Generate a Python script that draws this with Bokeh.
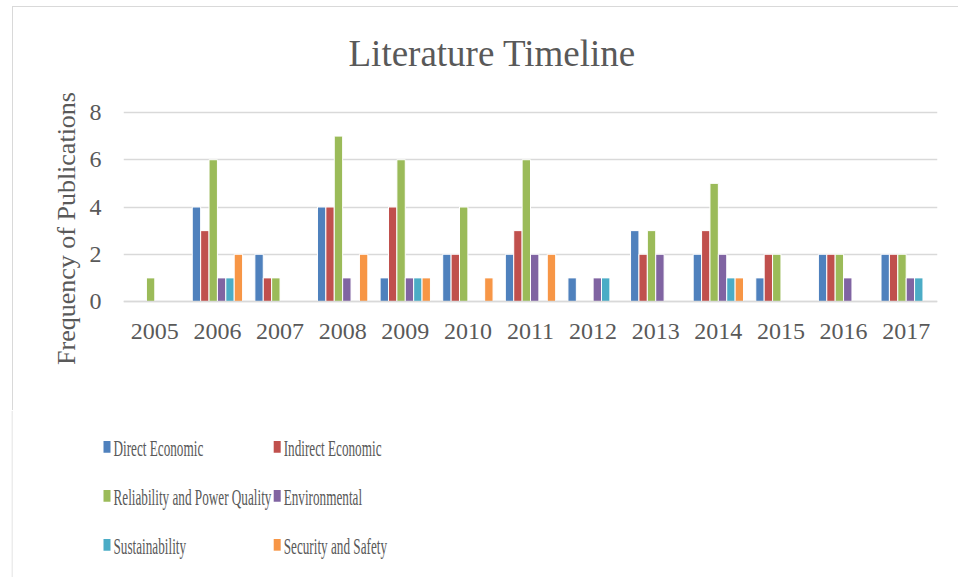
from bokeh.plotting import figure
from bokeh.models import (FactorRange, Range1d, FixedTicker, ColumnDataSource,
                          Title, Column)
from bokeh.transform import dodge
from bokeh.embed import file_html
from bokeh.resources import INLINE
from bokeh.core.properties import value

# ---- data -------------------------------------------------------------
years = ["2005", "2006", "2007", "2008", "2009", "2010", "2011",
         "2012", "2013", "2014", "2015", "2016", "2017"]

direct_economic   = [0, 4, 2, 4, 1, 2, 2, 1, 3, 2, 1, 2, 2]
indirect_economic = [0, 3, 1, 4, 4, 2, 3, 0, 2, 3, 2, 2, 2]
reliability_pq    = [1, 6, 1, 7, 6, 4, 6, 0, 3, 5, 2, 2, 2]
environmental     = [0, 1, 0, 1, 1, 0, 2, 1, 2, 2, 0, 1, 1]
sustainability    = [0, 1, 0, 0, 1, 0, 0, 1, 0, 1, 0, 0, 1]
security_safety   = [0, 2, 0, 2, 1, 1, 2, 0, 0, 1, 0, 0, 0]

series_names = ["Direct Economic", "Indirect Economic",
                "Reliability and Power Quality", "Environmental",
                "Sustainability", "Security and Safety"]
series_keys = ["direct", "indirect", "reliability", "environmental",
               "sustainability", "security"]
series_colors = ["#4F81BD", "#C0504D", "#9BBB59", "#8064A2",
                 "#4BACC6", "#F79646"]
y_ticks = [0, 2, 4, 6, 8]

FONT = "Liberation Serif"
TEXT_COLOR = "#595959"
GRID_COLOR = "#d9d9d9"

source = ColumnDataSource(dict(
    year=years,
    direct=direct_economic,
    indirect=indirect_economic,
    reliability=reliability_pq,
    environmental=environmental,
    sustainability=sustainability,
    security=security_safety,
))

# ---- main chart ---------------------------------------------------------
W = 945
H_TOP = 403

# the frame runs a little above 8 and below 0 (no outline is drawn) so the
# title and the vertical axis title land where they should; the category
# axis is pinned to y = 0
p = figure(width=W, height=H_TOP,
           x_range=FactorRange(factors=years, range_padding=0),
           y_range=Range1d(-2.370, 8.550),
           output_backend="svg", toolbar_location=None,
           min_border_left=110, min_border_right=21,
           min_border_top=92, min_border_bottom=53,
           border_fill_color="white", background_fill_color="white")
p.outline_line_color = None

p.title = Title(text="Literature Timeline", align="left", offset=225,
                vertical_align="top",
                text_font=FONT, text_font_size="37px",
                text_font_style="normal", text_color=TEXT_COLOR,
                standoff=48)

bar_step = 0.134
n = len(series_keys)
for i, (key, color) in enumerate(zip(series_keys, series_colors)):
    off = (i - (n - 1) / 2) * bar_step
    p.vbar(x=dodge("year", off, range=p.x_range), top=key, bottom=0,
           width=bar_step, source=source, fill_color=color,
           line_color="white", line_width=1)

# axes
p.yaxis.ticker = FixedTicker(ticks=y_ticks)
p.yaxis.axis_label = "Frequency of Publications"
p.xaxis.axis_label = "Year"
p.xaxis.fixed_location = 0
for ax in (p.xaxis[0], p.yaxis[0]):
    ax.major_tick_line_color = None
    ax.minor_tick_line_color = None
    ax.major_label_text_font = FONT
    ax.major_label_text_font_size = "24px"
    ax.major_label_text_color = TEXT_COLOR
    ax.axis_label_text_font = FONT
    ax.axis_label_text_font_size = "26px"
    ax.axis_label_text_font_style = "normal"
    ax.axis_label_text_color = TEXT_COLOR
p.yaxis.axis_line_color = None
p.yaxis.major_label_standoff = 16
p.yaxis.axis_label_standoff = 6
p.xaxis.axis_line_color = GRID_COLOR
p.xaxis.axis_line_width = 1.5
p.xaxis.major_label_standoff = 16
p.xaxis.axis_label_standoff = 12

p.xgrid.grid_line_color = None
p.ygrid.grid_line_color = GRID_COLOR
p.ygrid.grid_line_width = 1.5

top_block = Column(children=[p], spacing=0, margin=(6, 0, 0, 12),
                   styles={"border-left": f"1px solid {GRID_COLOR}",
                           "border-top": f"1px solid {GRID_COLOR}"})

# ---- legend panel (narrow type, stretched vertically) -------------------
# The block is scaled with CSS; the canvas picks up the scaled height, so
# the vertical range below is expressed in final on-screen pixels.
STRETCH = 1.67
H_LEG = 60
H_VIS = 167
leg = figure(width=W, height=H_LEG,
             x_range=Range1d(0, W), y_range=Range1d(H_VIS, 0),
             output_backend="svg", toolbar_location=None,
             x_axis_location=None, y_axis_location=None,
             min_border=0, border_fill_color="white",
             background_fill_color="white")
leg.outline_line_color = None
leg.grid.visible = False

# left edge of the chart box, continued down past the legend
leg.segment(x0=[0.5], y0=[0], x1=[0.5], y1=[H_VIS],
            line_color=GRID_COLOR, line_width=1)

col_x = [95.5, 265.7]
row_y = [36, 85, 134]
mx, my, tx, ty = [], [], [], []
for k in range(len(series_names)):
    cx = col_x[k % 2]
    cy = row_y[k // 2]
    mx.append(cx)
    my.append(cy)
    tx.append(cx + 6.5)
    ty.append(cy + 1.5)

leg.rect(x=mx, y=my, width=7, height=7, width_units="screen",
         height_units="screen", fill_color=series_colors, line_color=None)
leg.text(x=tx, y=ty, text=series_names, text_font=value(FONT),
         text_font_size="13.2px", text_color=TEXT_COLOR,
         text_baseline="middle", text_align="left")

legend_block = Column(children=[leg], spacing=0, margin=(0, 0, 0, 11),
                      styles={"transform": f"scaleY({STRETCH})",
                              "transform-origin": "top left"})

open("out.html", "w").write(file_html([top_block, legend_block], INLINE))
